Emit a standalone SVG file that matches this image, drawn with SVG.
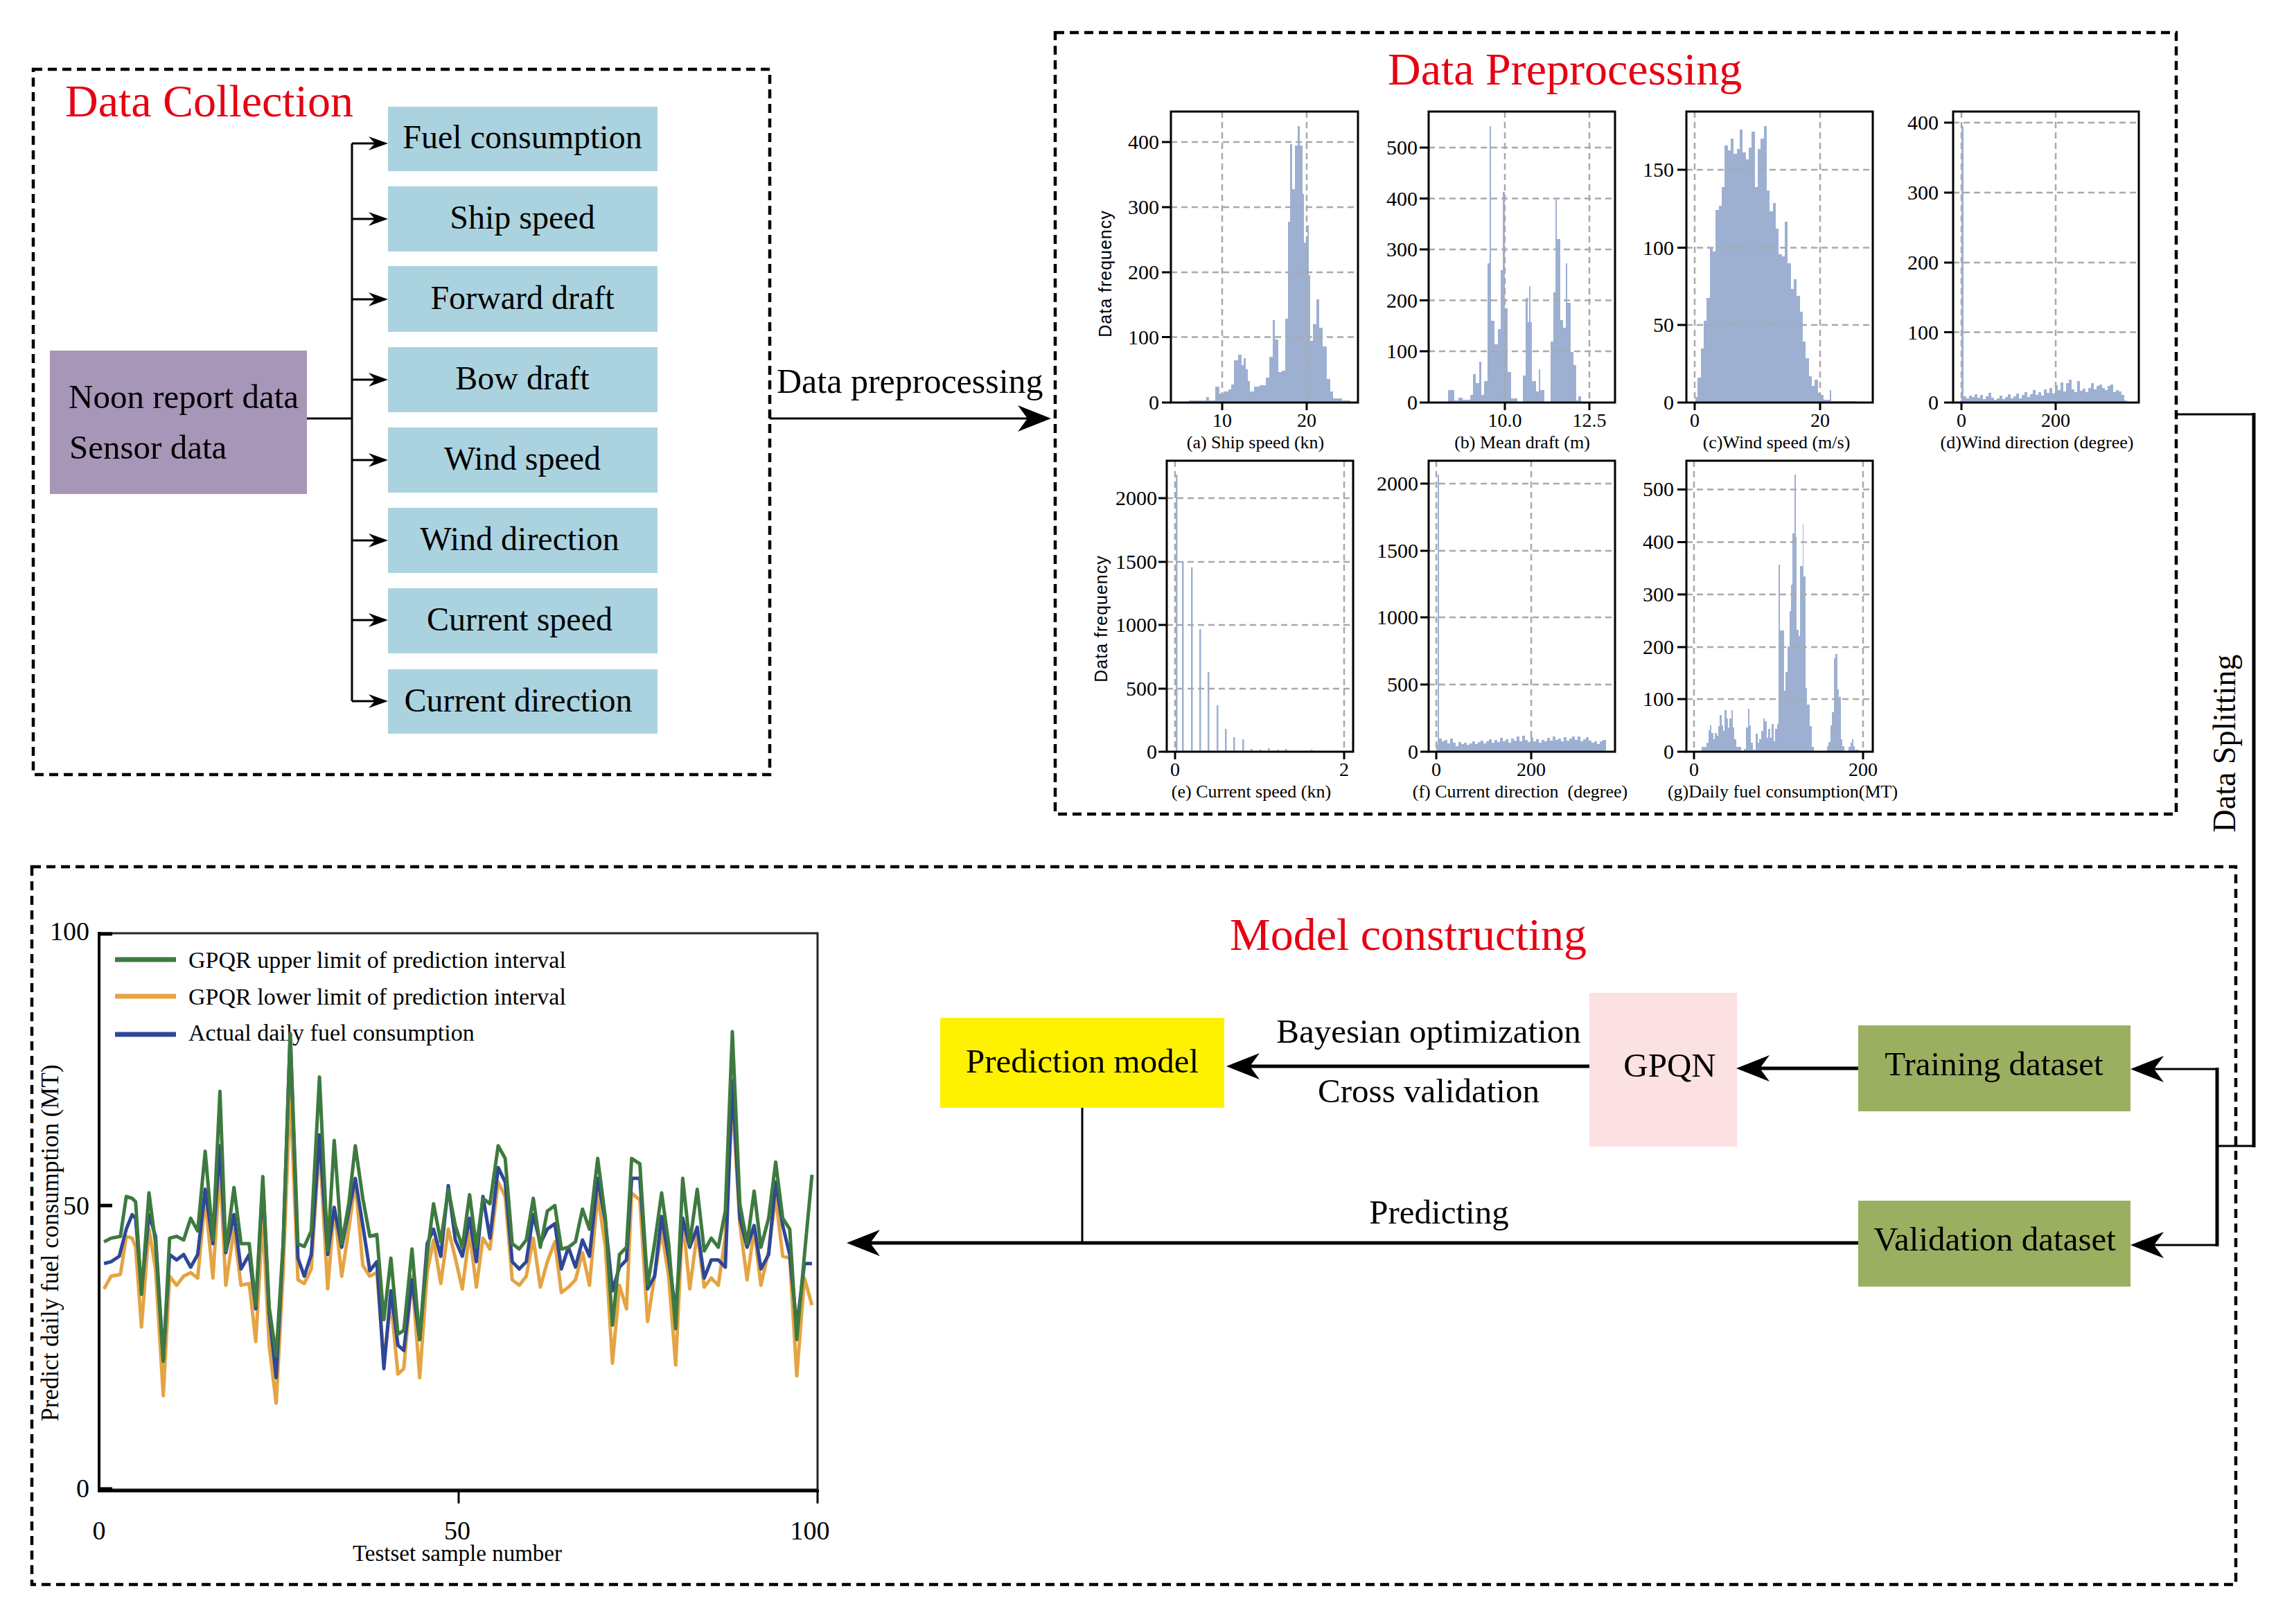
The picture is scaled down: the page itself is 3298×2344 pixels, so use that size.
<svg xmlns="http://www.w3.org/2000/svg" width="3298" height="2344" viewBox="0 0 3298 2344">
<style>
text{font-family:"Liberation Serif","Times New Roman",serif;fill:#000}
.title{font-size:66px;fill:#e60012}
.nt{font-size:48px}
.mt{font-size:49px}
.tick{font-size:30px}
.xt{font-size:28px}
.cap{font-size:26px}
.grid{fill:none;stroke:#a9a9a9;stroke-width:2.5;stroke-dasharray:9 6}
.bar{fill:#9db0d2}
.frame{fill:none;stroke:#000;stroke-width:3}
.tk{fill:none;stroke:#000;stroke-width:3}
.dash{fill:none;stroke:#000;stroke-width:4.5;stroke-dasharray:13 8}
.conn{fill:none;stroke:#000}
.ser{fill:none;stroke-width:5;stroke-linejoin:round}
.yl{font-family:"Liberation Sans",Arial,sans-serif;font-size:25px;letter-spacing:1px}
</style>
<defs>
<marker id="ah" viewBox="-50 -22 60 44" refX="-8" refY="0" markerWidth="60" markerHeight="44" markerUnits="userSpaceOnUse" orient="auto"><path d="M0,0 L-48,-19 L-34,0 L-48,19 Z" fill="#000"/></marker>
<marker id="ahs" viewBox="-32 -12 40 24" refX="-5" refY="0" markerWidth="40" markerHeight="24" markerUnits="userSpaceOnUse" orient="auto"><path d="M0,0 L-28,-10 L-19,0 L-28,10 Z" fill="#000"/></marker>
</defs>
<rect width="3298" height="2344" fill="#fff"/>

<!-- Data Collection panel -->
<g id="data-collection">
<rect class="dash" x="48" y="100" width="1063" height="1018"/>
<text class="title" x="94" y="168">Data Collection</text>
</g>
<g id="source">
<rect x="72" y="506" width="371" height="207" fill="#a796b8"/>
<text x="99" y="589" style="font-size:49px">Noon report data</text>
<text x="100" y="662" style="font-size:49px">Sensor data</text>
</g>
<g id="fuel-consumption"><rect x="560" y="154" width="389" height="93" fill="#abd3df"/><text class="nt" x="754" y="214" text-anchor="middle">Fuel consumption</text></g>
<g id="ship-speed"><rect x="560" y="269" width="389" height="94" fill="#abd3df"/><text class="nt" x="754" y="330" text-anchor="middle">Ship speed</text></g>
<g id="forward-draft"><rect x="560" y="384" width="389" height="95" fill="#abd3df"/><text class="nt" x="754" y="446" text-anchor="middle">Forward draft</text></g>
<g id="bow-draft"><rect x="560" y="501" width="389" height="94" fill="#abd3df"/><text class="nt" x="754" y="562" text-anchor="middle">Bow draft</text></g>
<g id="wind-speed"><rect x="560" y="617" width="389" height="94" fill="#abd3df"/><text class="nt" x="754" y="678" text-anchor="middle">Wind speed</text></g>
<g id="wind-direction"><rect x="560" y="733" width="389" height="94" fill="#abd3df"/><text class="nt" x="750" y="794" text-anchor="middle">Wind direction</text></g>
<g id="current-speed"><rect x="560" y="849" width="389" height="94" fill="#abd3df"/><text class="nt" x="750" y="910" text-anchor="middle">Current speed</text></g>
<g id="current-direction"><rect x="560" y="966" width="389" height="93" fill="#abd3df"/><text class="nt" x="748" y="1027" text-anchor="middle">Current direction</text></g>

<!-- Data Preprocessing panel -->
<g id="data-preprocessing">
<rect class="dash" x="1523" y="47" width="1618" height="1128"/>
<text class="title" x="2003" y="122">Data Preprocessing</text>
<text class="yl" transform="translate(1604 395) rotate(-90)" text-anchor="middle">Data frequency</text>
<text class="yl" transform="translate(1598 893) rotate(-90)" text-anchor="middle">Data frequency</text>

<!-- (a) -->
<g id="hist-a">
<path class="bar" d="M1716 581V578H1741V573H1745V578H1754V558H1760V568H1766V565H1773V562H1777V555H1781V520H1787V512H1792V527H1795V517H1798V533H1801V550H1804V565H1810V558H1818V556H1827V545H1832V515H1837V462H1840V490H1845V537H1850V535H1855V460H1859V320H1862V208H1865V273H1869V210H1873V182H1876V210H1880V280H1882V350H1887V325H1889V397H1891V492H1895V468H1900V432H1904V473H1909V500H1915V547H1920V565H1924V575H1937V578H1949V581Z"/>
<path class="grid" d="M1690 486.5H1960M1690 393H1960M1690 299H1960M1690 205H1960M1764 161V581M1886 161V581"/>
<rect class="frame" x="1690" y="161" width="270" height="420"/>
<path class="tk" d="M1677 581H1690M1677 486.5H1690M1677 393H1690M1677 299H1690M1677 205H1690M1764 581V592M1886 581V592"/>
<g class="tick" text-anchor="end"><text x="1673" y="591">0</text><text x="1673" y="497">100</text><text x="1673" y="403">200</text><text x="1673" y="309">300</text><text x="1673" y="215">400</text></g>
<g class="xt" text-anchor="middle"><text x="1764" y="616">10</text><text x="1886" y="616">20</text></g>
<text class="cap" x="1812" y="647" text-anchor="middle">(a) Ship speed (kn)</text>
</g>

<!-- (b) -->
<g id="hist-b">
<path class="bar" d="M2090 581V563H2099V578H2105V574H2111V577H2122V570H2126V540H2130V553H2135V522H2138V570H2142V550H2147V380H2150V182H2152V463H2157V497H2162V475H2166V390H2169V277H2172V445H2176V537H2181V575H2190V581H2198V542H2202V430H2205V465H2207V413H2209V465H2211V550H2217V565H2221V533H2223V563H2229V581H2238V493H2242V422H2245V288H2247V345H2252V462H2256V473H2260V380H2262V437H2267V508H2271V527H2275V578H2278V572H2282V581Z"/>
<path class="grid" d="M2062 507H2331M2062 433.5H2331M2062 360H2331M2062 286.5H2331M2062 213H2331M2172 161V581M2294 161V581"/>
<rect class="frame" x="2062" y="161" width="269" height="420"/>
<path class="tk" d="M2049 581H2062M2049 507H2062M2049 433.5H2062M2049 360H2062M2049 286.5H2062M2049 213H2062M2172 581V592M2294 581V592"/>
<g class="tick" text-anchor="end"><text x="2046" y="591">0</text><text x="2046" y="517">100</text><text x="2046" y="444">200</text><text x="2046" y="370">300</text><text x="2046" y="297">400</text><text x="2046" y="223">500</text></g>
<g class="xt" text-anchor="middle"><text x="2172" y="616">10.0</text><text x="2294" y="616">12.5</text></g>
<text class="cap" x="2197" y="647" text-anchor="middle">(b) Mean draft (m)</text>
</g>

<!-- (c) -->
<g id="hist-c">
<path class="bar" d="M2447 581V573H2450V545H2455V503H2459V463H2463V430H2468V357H2472V363H2476V303H2481V297H2485V270H2489V210H2494V217H2498V200H2502V222H2507V215H2511V187H2515V220H2520V230H2524V213H2528V190H2533V270H2537V215H2541V200H2546V182H2550V275H2554V305H2559V293H2563V330H2567V367H2572V370H2576V320H2580V380H2585V417H2589V403H2593V427H2598V450H2602V493H2606V517H2611V543H2615V557H2619V548H2624V567H2628V570H2632V577H2641V563H2643V579H2680V581Z"/>
<path class="grid" d="M2434 469H2703M2434 357.6H2703M2434 245H2703M2446 161V581M2627 161V581"/>
<rect class="frame" x="2434" y="161" width="269" height="420"/>
<path class="tk" d="M2421 581H2434M2421 469H2434M2421 357.6H2434M2421 245H2434M2446 581V592M2627 581V592"/>
<g class="tick" text-anchor="end"><text x="2416" y="591">0</text><text x="2416" y="479">50</text><text x="2416" y="368">100</text><text x="2416" y="255">150</text></g>
<g class="xt" text-anchor="middle"><text x="2446" y="616">0</text><text x="2627" y="616">20</text></g>
<text class="cap" x="2564" y="647" text-anchor="middle">(c)Wind speed (m/s)</text>
</g>

<!-- (d) -->
<g id="hist-d">
<path class="bar" d="M2829 581V578H2831V182H2834V572H2838V575H2842V571H2846V573H2850V569H2854V574H2858V570H2862V576H2866V572H2870V567H2874V574H2878V577H2882V575H2886V571H2890V576H2894V573H2898V569H2902V575H2906V572H2910V568H2914V575H2918V570H2922V566H2926V573H2930V569H2934V563H2938V570H2942V566H2946V571H2950V562H2954V567H2958V560H2962V568H2966V556H2970V563H2974V552H2978V565H2982V553H2986V548H2990V562H2994V566H2998V550H3002V564H3006V561H3010V566H3014V560H3018V553H3022V562H3026V557H3030V555H3034V560H3038V563H3042V557H3046V555H3050V566H3054V563H3058V565H3062V570H3066V578H3070V581Z"/>
<path class="grid" d="M2819 479.6H3087M2819 379H3087M2819 278H3087M2819 177H3087M2831 161V581M2967 161V581"/>
<rect class="frame" x="2819" y="161" width="268" height="420"/>
<path class="tk" d="M2806 581H2819M2806 479.6H2819M2806 379H2819M2806 278H2819M2806 177H2819M2831 581V592M2967 581V592"/>
<g class="tick" text-anchor="end"><text x="2798" y="591">0</text><text x="2798" y="490">100</text><text x="2798" y="389">200</text><text x="2798" y="288">300</text><text x="2798" y="187">400</text></g>
<g class="xt" text-anchor="middle"><text x="2831" y="616">0</text><text x="2967" y="616">200</text></g>
<text class="cap" x="2940" y="647" text-anchor="middle">(d)Wind direction (degree)</text>
</g>

<!-- (e) -->
<g id="hist-e">
<path class="bar" d="M1697 1085V685H1699.5V1085ZM1706 1085V810H1708.5V1085ZM1719 1085V819H1721.5V1085ZM1731 1085V908H1733.5V1085ZM1743 1085V970H1745.5V1085ZM1756 1085V1018H1758.5V1085ZM1768 1085V1052H1770.5V1085ZM1780 1085V1064H1782.5V1085ZM1793 1085V1067H1795.5V1085ZM1805 1085V1081H1807.5V1085ZM1818 1085V1082H1820.5V1085ZM1830 1085V1080H1832.5V1085ZM1843 1085V1082H1845.5V1085ZM1855 1085V1081H1857.5V1085ZM1892 1085V1082H1894.5V1085Z"/>
<path class="grid" d="M1684 994H1953M1684 902H1953M1684 811H1953M1684 719H1953M1696 665V1085M1940 665V1085"/>
<rect class="frame" x="1684" y="665" width="269" height="420"/>
<path class="tk" d="M1672 1085H1684M1672 994H1684M1672 902H1684M1672 811H1684M1672 719H1684M1696 1085V1096M1940 1085V1096"/>
<g class="tick" text-anchor="end"><text x="1670" y="1095">0</text><text x="1670" y="1004">500</text><text x="1670" y="912">1000</text><text x="1670" y="821">1500</text><text x="1670" y="729">2000</text></g>
<g class="xt" text-anchor="middle"><text x="1696" y="1120">0</text><text x="1940" y="1120">2</text></g>
<text class="cap" x="1806" y="1151" text-anchor="middle">(e) Current speed (kn)</text>
</g>

<!-- (f) -->
<g id="hist-f">
<path class="bar" d="M2073 1085V1075H2075V685H2077V1066H2081V1070H2085V1068H2089V1073H2093V1066H2097V1072H2101V1077H2105V1071H2109V1074H2113V1072H2117V1075H2121V1073H2125V1070H2129V1074H2133V1071H2137V1069H2141V1073H2145V1070H2149V1067H2153V1072H2157V1068H2161V1071H2165V1065H2169V1070H2173V1067H2177V1072H2181V1066H2185V1069H2189V1063H2193V1070H2197V1062H2201V1068H2205V1071H2209V1064H2213V1070H2217V1067H2221V1072H2225V1068H2229V1070H2233V1065H2237V1069H2241V1063H2245V1068H2249V1066H2253V1070H2257V1064H2261V1069H2265V1066H2269V1063H2273V1068H2277V1063H2281V1070H2285V1067H2289V1064H2293V1069H2297V1072H2301V1070H2305V1074H2309V1070H2313V1068H2318V1085Z"/>
<path class="grid" d="M2062 988H2331M2062 891H2331M2062 795H2331M2062 698H2331M2073 665V1085M2210 665V1085"/>
<rect class="frame" x="2062" y="665" width="269" height="420"/>
<path class="tk" d="M2050 1085H2062M2050 988H2062M2050 891H2062M2050 795H2062M2050 698H2062M2073 1085V1096M2210 1085V1096"/>
<g class="tick" text-anchor="end"><text x="2047" y="1095">0</text><text x="2047" y="998">500</text><text x="2047" y="901">1000</text><text x="2047" y="805">1500</text><text x="2047" y="708">2000</text></g>
<g class="xt" text-anchor="middle"><text x="2073" y="1120">0</text><text x="2210" y="1120">200</text></g>
<text class="cap" x="2194" y="1151" text-anchor="middle" xml:space="preserve">(f) Current direction  (degree)</text>
</g>

<!-- (g) -->
<g id="hist-g">
<path class="bar" d="M2456 1084V1078H2463V1072H2466V1054H2468V1047H2470V1058H2473V1067H2475V1058H2478V1062H2480V1048H2482V1032H2485V1047H2487V1055H2489V1025H2492V1037H2494V1050H2496V1037H2499V1025H2501V1050H2503V1067H2506V1078H2513V1084H2517V1081H2520V1050H2523V1023H2525V1047H2527V1072H2530V1082H2534V1059H2537V1072H2539V1067H2542V1055H2545V1037H2547V1041H2550V1065H2552V1052H2555V1065H2557V1045H2560V1070H2562V1052H2565V1045H2567V815H2569V910H2575V997H2577V970H2580V933H2583V882H2585V844H2587V770H2590V685H2592V775H2593V909H2596V918H2598V817H2602V756H2603V832H2606V993H2608V1017H2612V1048H2615V1078H2618V1084H2637V1077H2639V1071H2642V1047H2644V1028H2647V950H2649V944H2652V995H2654V1006H2657V1067H2659V1077H2662V1084H2668V1078H2671V1072H2673V1067H2675V1077H2677V1082H2683V1084Z"/>
<path class="grid" d="M2434 1009H2703M2434 934H2703M2434 858H2703M2434 782.6H2703M2434 706.5H2703M2445 665V1085M2689 665V1085"/>
<rect class="frame" x="2434" y="665" width="269" height="420"/>
<path class="tk" d="M2421 1085H2434M2421 1009H2434M2421 934H2434M2421 858H2434M2421 782.6H2434M2421 706.5H2434M2445 1085V1096M2689 1085V1096"/>
<g class="tick" text-anchor="end"><text x="2416" y="1095">0</text><text x="2416" y="1019">100</text><text x="2416" y="944">200</text><text x="2416" y="868">300</text><text x="2416" y="792">400</text><text x="2416" y="716">500</text></g>
<g class="xt" text-anchor="middle"><text x="2445" y="1120">0</text><text x="2689" y="1120">200</text></g>
<text class="cap" x="2573" y="1151" text-anchor="middle">(g)Daily fuel consumption(MT)</text>
</g>
</g>

<!-- Model constructing panel -->
<g id="model-constructing">
<rect class="dash" x="46" y="1251" width="3181" height="1036"/>
<text class="title" x="1775" y="1371">Model constructing</text>
</g>
<g id="prediction-model"><rect x="1357" y="1469" width="410" height="130" fill="#fff200"/><text class="mt" x="1562" y="1548" text-anchor="middle">Prediction model</text></g>
<g id="gpqn"><rect x="2294" y="1433" width="213" height="222" fill="#fbe1e1"/><text class="mt" x="2410" y="1554" text-anchor="middle">GPQN</text></g>
<g id="training-dataset"><rect x="2682" y="1480" width="393" height="124" fill="#9baf60"/><text class="mt" x="2878" y="1552" text-anchor="middle">Training dataset</text></g>
<g id="validation-dataset"><rect x="2682" y="1733" width="393" height="124" fill="#9baf60"/><text class="mt" x="2879" y="1805" text-anchor="middle">Validation dataset</text></g>

<!-- Prediction chart -->
<g id="prediction-chart">
<rect x="143" y="1347" width="1037" height="803" fill="none" stroke="#222" stroke-width="3"/>
<path d="M143 1345V2152H1182" fill="none" stroke="#000" stroke-width="4"/>
<path d="M143 1348H162M143 1740H162M143 2149H162" stroke="#000" stroke-width="5"/>
<path d="M662 2150V2170M1180 2150V2170" stroke="#000" stroke-width="3"/>
<g style="font-size:38px" text-anchor="end"><text x="129" y="1357">100</text><text x="129" y="1753">50</text><text x="129" y="2161">0</text></g>
<g style="font-size:38px" text-anchor="middle"><text x="143" y="2222">0</text><text x="660" y="2222">50</text><text x="1169" y="2222">100</text></g>
<text x="660" y="2253" text-anchor="middle" style="font-size:33px">Testset sample number</text>
<text transform="translate(84 1794) rotate(-90)" text-anchor="middle" style="font-size:35px">Predict daily fuel consumption (MT)</text>
<path d="M166 1385H254" stroke="#3d7a3f" stroke-width="7"/>
<path d="M166 1438H254" stroke="#e4a443" stroke-width="7"/>
<path d="M166 1493H254" stroke="#2f4797" stroke-width="7"/>
<g style="font-size:34px"><text x="272" y="1397">GPQR upper limit of prediction interval</text><text x="272" y="1450">GPQR lower limit of prediction interval</text><text x="272" y="1502">Actual daily fuel consumption</text></g>
<g transform="translate(140 1340) scale(0.33801 0.52296)">
<polyline class="ser" stroke="#e4a443" vector-effect="non-scaling-stroke" points="30,995 60,960 100,955 125,850 150,855 165,880 190,1100 222,830 250,940 283,1290 310,960 340,985 370,960 400,950 430,965 462,745 495,965 525,660 550,985 585,830 615,985 650,980 678,1140 708,800 735,1150 765,1310 795,950 825,450 858,970 885,980 915,940 950,595 985,995 1013,770 1045,960 1075,830 1103,700 1135,930 1165,960 1195,950 1225,1195 1255,1030 1285,1230 1310,1215 1345,960 1378,1240 1410,950 1437,860 1468,980 1500,830 1530,910 1560,995 1591,840 1620,990 1648,855 1678,885 1713,700 1743,740 1773,970 1803,985 1833,960 1863,855 1893,990 1923,920 1955,865 1983,1005 2013,990 2043,970 2073,895 2103,985 2138,735 2171,880 2201,1200 2231,985 2261,1050 2283,730 2318,750 2351,1085 2381,960 2411,835 2441,960 2471,1205 2501,800 2531,995 2563,840 2593,990 2623,965 2653,985 2683,850 2713,470 2745,815 2776,970 2806,830 2835,985 2868,890 2898,740 2928,905 2958,910 2988,1235 3021,965 3053,1040"/>
<polyline class="ser" stroke="#2f4797" vector-effect="non-scaling-stroke" points="30,925 60,920 95,905 125,830 150,790 165,800 190,1000 222,790 250,850 283,1190 310,900 340,915 370,900 400,935 430,900 462,720 495,870 525,600 550,895 585,790 615,940 650,900 678,1050 708,700 735,1060 765,1240 795,870 825,290 858,910 885,960 915,900 950,570 985,900 1013,770 1045,880 1075,780 1103,690 1135,820 1165,945 1195,920 1225,1215 1255,1000 1285,1150 1310,1165 1345,970 1378,1135 1410,870 1437,830 1468,905 1500,710 1530,860 1560,905 1591,800 1620,920 1648,740 1678,855 1713,660 1743,700 1773,920 1803,940 1833,920 1863,790 1893,870 1923,830 1955,815 1983,940 2013,880 2043,935 2073,860 2103,905 2138,690 2171,810 2201,1000 2231,935 2261,915 2283,690 2318,690 2351,995 2381,960 2411,795 2441,910 2471,1060 2501,800 2531,880 2563,825 2593,965 2623,915 2653,915 2683,935 2713,420 2745,800 2776,880 2806,820 2835,940 2868,900 2898,700 2928,820 2958,900 2988,1100 3021,925 3053,925"/>
<polyline class="ser" stroke="#3d7a3f" vector-effect="non-scaling-stroke" points="30,865 60,855 100,850 125,740 150,745 165,755 190,1010 222,730 250,870 283,1195 310,855 340,850 370,860 400,800 430,835 462,615 495,860 525,450 550,890 585,715 615,870 650,870 678,1040 708,685 735,1045 765,1180 795,870 825,290 858,870 885,878 915,835 950,410 985,890 1013,585 1045,870 1075,760 1103,600 1135,745 1165,850 1195,845 1225,1080 1255,910 1285,1120 1310,1110 1345,885 1378,1135 1410,900 1437,760 1468,865 1500,720 1530,820 1560,880 1591,735 1620,880 1648,745 1678,760 1713,600 1743,635 1773,870 1803,885 1833,860 1863,745 1893,880 1923,780 1955,765 1983,885 2013,880 2043,865 2073,775 2103,830 2138,635 2171,800 2201,1095 2231,900 2261,880 2283,635 2318,650 2351,985 2381,870 2411,730 2441,870 2471,1105 2501,690 2531,870 2563,720 2593,890 2623,855 2653,880 2683,780 2713,285 2745,760 2776,870 2806,725 2835,880 2868,800 2898,645 2928,800 2958,830 2988,1135 3021,900 3053,680"/>
</g>
</g>

<!-- Connectors -->
<g id="connectors">
<path class="conn" stroke-width="3" d="M443 604H508M508 207V1012"/>
<path class="conn" stroke-width="3" marker-end="url(#ahs)" d="M508 207H555"/>
<path class="conn" stroke-width="3" marker-end="url(#ahs)" d="M508 316H555"/>
<path class="conn" stroke-width="3" marker-end="url(#ahs)" d="M508 432H555"/>
<path class="conn" stroke-width="3" marker-end="url(#ahs)" d="M508 548H555"/>
<path class="conn" stroke-width="3" marker-end="url(#ahs)" d="M508 664H555"/>
<path class="conn" stroke-width="3" marker-end="url(#ahs)" d="M508 780H555"/>
<path class="conn" stroke-width="3" marker-end="url(#ahs)" d="M508 895H555"/>
<path class="conn" stroke-width="3" marker-end="url(#ahs)" d="M508 1012H555"/>
<path class="conn" stroke-width="3" marker-end="url(#ah)" d="M1111 604H1509"/>
<path class="conn" stroke-width="3" d="M3141 598H3253M3253 1654H3200"/>
<path class="conn" stroke-width="5" d="M3253 596V1656M3200 1541V1799"/>
<path class="conn" stroke-width="3" marker-end="url(#ah)" d="M3200 1543H3083"/>
<path class="conn" stroke-width="3" marker-end="url(#ah)" d="M3200 1797H3083"/>
<path class="conn" stroke-width="5" marker-end="url(#ah)" d="M2682 1542H2514"/>
<path class="conn" stroke-width="5" marker-end="url(#ah)" d="M2294 1539H1778"/>
<path class="conn" stroke-width="5" marker-end="url(#ah)" d="M2682 1794H1230"/>
<path class="conn" stroke-width="3" d="M1562 1599V1794"/>
</g>

<!-- Connector labels -->
<g id="labels">
<text x="1121" y="567" style="font-size:50px">Data preprocessing</text>
<text transform="translate(3226 1073) rotate(-90)" text-anchor="middle" style="font-size:46px">Data Splitting</text>
<text class="mt" x="2062" y="1505" text-anchor="middle">Bayesian optimization</text>
<text class="mt" x="2062" y="1591" text-anchor="middle">Cross validation</text>
<text class="mt" x="2077" y="1766" text-anchor="middle">Predicting</text>
</g>
</svg>
